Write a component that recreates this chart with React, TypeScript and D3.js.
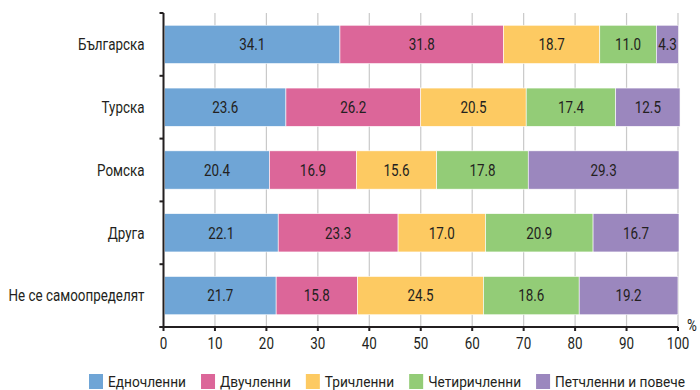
import React, { useEffect, useRef } from "react";
import * as d3 from "d3";

const categories = ["Българска", "Турска", "Ромска", "Друга", "Не се самоопределят"];
const seriesNames = ["Едночленни", "Двучленни", "Тричленни", "Четиричленни", "Петчленни и повече"];
const single = [34.1, 23.6, 20.4, 22.1, 21.7];
const two = [31.8, 26.2, 16.9, 23.3, 15.8];
const three = [18.7, 20.5, 15.6, 17.0, 24.5];
const four = [11.0, 17.4, 17.8, 20.9, 18.6];
const fivePlus = [4.3, 12.5, 29.3, 16.7, 19.2];
const xTicks = [0, 10, 20, 30, 40, 50, 60, 70, 80, 90, 100];
const colors = ["#6fa5d6", "#dc6699", "#fdca62", "#93cc77", "#9b87be"];

const FONT = "Roboto, 'DejaVu Sans', sans-serif";
const TEXT = "#231f20";

export default function App() {
  const ref = useRef<SVGSVGElement | null>(null);

  useEffect(() => {
    const svg = d3.select(ref.current);
    svg.selectAll("*").remove();
    const W = 700, H = 390;
    const m = { left: 163.5, right: 22, top: 13, bottom: 63 };
    const x = d3.scaleLinear().domain([0, 100]).range([m.left, W - m.right]);
    const y = d3.scaleBand().domain(categories).range([m.top, H - m.bottom]).paddingInner(0.39).paddingOuter(0.195);
    const yBounds = d3.scaleBand().domain(categories).range([m.top, H - m.bottom]);

    const measure = (s: string, fs: number) => {
      const p = svg.append("text").attr("font-family", FONT).attr("font-size", fs).text(s);
      const w = (p.node() as SVGTextElement).getComputedTextLength();
      p.remove();
      return w;
    };
    // condensing factors matching the reference's narrow typeface
    const k = Math.min(1, 136 / measure(categories[4], 16));
    const kLeg = Math.min(1, 130 / measure(seriesNames[4], 15));

    const addText = (parent: any, tx: number, ty: number, str: string, anchor: string, kk: number = k, fs: number = 16) => {
      const w = measure(str, fs) * kk;
      parent.append("text")
        .attr("x", tx).attr("y", ty)
        .attr("dy", "0.36em")
        .attr("text-anchor", anchor)
        .attr("textLength", w)
        .attr("lengthAdjust", "spacingAndGlyphs")
        .attr("font-family", FONT).attr("font-size", fs).attr("fill", TEXT)
        .text(str);
      return w;
    };

    const series = [single, two, three, four, fivePlus];
    const rows = categories.map((c, i) => {
      const r: any = { cat: c };
      seriesNames.forEach((s, j) => (r[s] = series[j][i]));
      return r;
    });
    const stacked = d3.stack().keys(seriesNames)(rows);

    // grid
    svg.append("g").selectAll("line").data(xTicks.filter((t) => t > 0)).join("line")
      .attr("x1", (d) => x(d)).attr("x2", (d) => x(d))
      .attr("y1", m.top).attr("y2", H - m.bottom)
      .attr("stroke", "#c9c9c9").attr("stroke-width", 1.2);

    // bars
    const g = svg.append("g");
    stacked.forEach((layer, j) => {
      const lg = g.append("g");
      lg.selectAll("rect").data(layer).join("rect")
        .attr("x", (d) => x(d[0]) + 1)
        .attr("y", (d: any) => y(d.data.cat)!)
        .attr("width", (d) => Math.max(0, x(d[1]) - x(d[0])))
        .attr("height", y.bandwidth())
        .attr("fill", colors[j])
        .attr("stroke", "#ffffff").attr("stroke-width", 0.6);
      layer.forEach((d: any) => {
        addText(lg, x((d[0] + d[1]) / 2) + 1, y(d.data.cat)! + y.bandwidth() / 2, (d[1] - d[0]).toFixed(1), "middle");
      });
    });

    // y axis
    const ax = svg.append("g").attr("stroke", TEXT).attr("stroke-width", 2);
    ax.append("line").attr("x1", m.left).attr("x2", m.left).attr("y1", m.top).attr("y2", H - m.bottom);
    const bounds = categories.map((c) => yBounds(c)!).concat([H - m.bottom]);
    ax.selectAll(".yt").data(bounds).join("line").attr("class", "yt")
      .attr("x1", m.left - 4).attr("x2", m.left).attr("y1", (d) => d).attr("y2", (d) => d);
    // x axis
    ax.append("line").attr("x1", m.left - 4).attr("x2", x(100)).attr("y1", H - m.bottom).attr("y2", H - m.bottom);
    ax.selectAll(".xt").data(xTicks).join("line").attr("class", "xt")
      .attr("x1", (d) => x(d)).attr("x2", (d) => x(d))
      .attr("y1", H - m.bottom).attr("y2", H - m.bottom + 4);

    // labels
    const yl = svg.append("g");
    categories.forEach((c) => addText(yl, m.left - 19, y(c)! + y.bandwidth() / 2, c, "end"));
    const xl = svg.append("g");
    xTicks.forEach((t) => addText(xl, x(t), H - m.bottom + 16, String(t), "middle"));
    addText(svg, 692, 325, "%", "middle");

    // legend
    const leg = svg.append("g");
    let lx = 89;
    const ly = 381.5;
    seriesNames.forEach((s, j) => {
      leg.append("rect").attr("x", lx).attr("y", ly - 7.5).attr("width", 14).attr("height", 15).attr("fill", colors[j]);
      const w = addText(leg, lx + 19, ly, s, "start", kLeg, 15);
      lx += 19 + w + 15;
    });
  }, []);

  return (
    <svg ref={ref} width={700} height={390} style={{ position: "absolute", left: 0, top: 0, background: "#fff" }} />
  );
}
